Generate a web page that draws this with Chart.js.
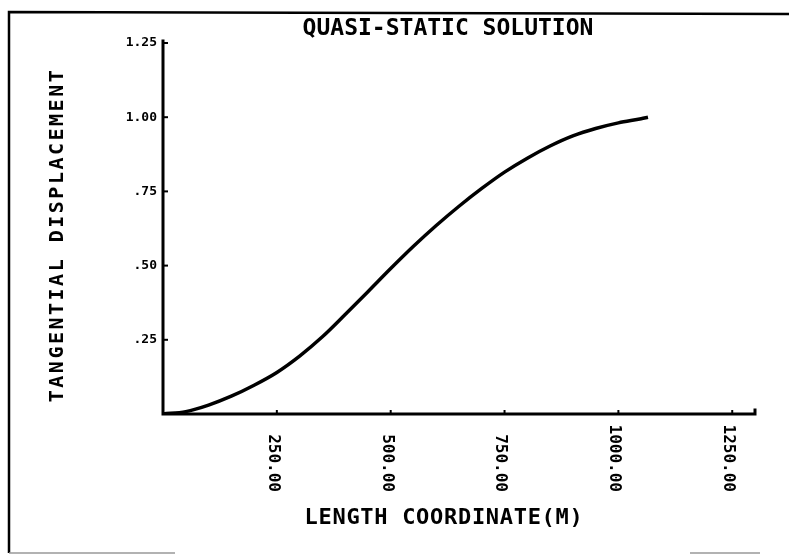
<!DOCTYPE html>
<html>
<head>
<meta charset="utf-8">
<script src="https://cdn.jsdelivr.net/npm/chart.js@4/dist/chart.umd.min.js"></script>
<style>
  html, body { margin: 0; padding: 0; background: #fff; }
  canvas { display: block; }
</style>
</head>
<body>
<canvas id="plot" width="789" height="557"></canvas>
<script>
// Length coordinate (m) and tangential displacement along the member
const lengthCoord = [0, 50, 100, 150, 200, 250, 300, 350, 400, 450, 500, 550, 600, 650, 700, 750, 800, 850, 900, 950, 1000, 1050, 1065];
const tangentialDisp = [0, 0.008, 0.03, 0.06, 0.097, 0.14, 0.195, 0.26, 0.335, 0.412, 0.49, 0.565, 0.635, 0.70, 0.76, 0.815, 0.862, 0.903, 0.937, 0.962, 0.981, 0.995, 1.0];

// Axis ticks
const xTickValues = [250, 500, 750, 1000, 1250];
const xTickLabels = ['250.00', '500.00', '750.00', '1000.00', '1250.00'];
const yTickValues = [0.25, 0.5, 0.75, 1.0, 1.25];
const yTickLabels = ['.25', '.50', '.75', '1.00', '1.25'];

const FONT = '"DejaVu Sans Mono", "Liberation Mono", monospace';

// White page with the plotter frame
const pageFrame = {
    id: 'pageFrame',
    beforeDraw: (chart) => {
        const ctx = chart.ctx;
        ctx.save();
        ctx.fillStyle = '#fff';
        ctx.fillRect(0, 0, chart.width, chart.height);
        ctx.strokeStyle = '#000';
        ctx.lineWidth = 2.5;
        ctx.beginPath();
        ctx.moveTo(9, 553);
        ctx.lineTo(9, 12);
        ctx.lineTo(789, 14);
        ctx.stroke();
        ctx.strokeStyle = '#999';
        ctx.lineWidth = 1.5;
        ctx.beginPath();
        ctx.moveTo(9, 553);
        ctx.lineTo(175, 553);
        ctx.moveTo(690, 553);
        ctx.lineTo(760, 553);
        ctx.stroke();
        ctx.restore();
    }
};

// Axes, tick marks and all lettering, placed with the chart's own scales
const plotterAxes = {
    id: 'plotterAxes',
    afterDraw: (chart) => {
        const ctx = chart.ctx;
        const xs = chart.scales.x;
        const ys = chart.scales.y;
        const x0 = xs.getPixelForValue(xs.min);
        const x1 = xs.getPixelForValue(xs.max);
        const y0 = ys.getPixelForValue(0);
        const yTop = ys.getPixelForValue(1.25);

        ctx.save();
        ctx.strokeStyle = '#000';
        ctx.fillStyle = '#000';
        ctx.lineWidth = 3;
        ctx.lineCap = 'square';

        // axis lines
        ctx.beginPath();
        ctx.moveTo(x0, yTop - 2);
        ctx.lineTo(x0, y0);
        ctx.lineTo(x1, y0);
        ctx.lineTo(x1, y0 - 4);
        ctx.stroke();

        // y ticks point into the plot
        ctx.lineWidth = 2;
        yTickValues.forEach((v) => {
            const py = ys.getPixelForValue(v);
            ctx.beginPath();
            ctx.moveTo(x0, py);
            ctx.lineTo(x0 + 4, py);
            ctx.stroke();
        });
        // x ticks point up
        xTickValues.forEach((v) => {
            const px = xs.getPixelForValue(v);
            ctx.beginPath();
            ctx.moveTo(px, y0);
            ctx.lineTo(px, y0 - 3);
            ctx.stroke();
        });

        // y tick labels
        ctx.font = 'bold 13px ' + FONT;
        ctx.textAlign = 'right';
        ctx.textBaseline = 'middle';
        yTickValues.forEach((v, i) => {
            ctx.fillText(yTickLabels[i], x0 - 6, ys.getPixelForValue(v));
        });

        // x tick labels, turned to read downwards and ending on one line
        ctx.font = 'bold 16px ' + FONT;
        xTickValues.forEach((v, i) => {
            const px = xs.getPixelForValue(v) - 4;
            ctx.save();
            ctx.translate(px, y0 + 78);
            ctx.rotate(Math.PI / 2);
            ctx.textAlign = 'right';
            ctx.textBaseline = 'middle';
            ctx.fillText(xTickLabels[i], 0, 0);
            ctx.restore();
        });

        // title
        ctx.font = 'bold 23px ' + FONT;
        ctx.textAlign = 'center';
        ctx.textBaseline = 'middle';
        ctx.fillText('QUASI-STATIC SOLUTION', 448, 29);

        // x axis title
        ctx.font = 'bold 22px ' + FONT;
        ctx.letterSpacing = '0.7px';
        ctx.fillText('LENGTH COORDINATE(M)', 444, 518);

        // y axis title
        ctx.save();
        ctx.translate(58, 235);
        ctx.rotate(-Math.PI / 2);
        ctx.font = 'bold 20px ' + FONT;
        ctx.letterSpacing = '2.5px';
        ctx.fillText('TANGENTIAL DISPLACEMENT', 0, 0);
        ctx.restore();

        ctx.restore();
    }
};

const points = lengthCoord.map((x, i) => ({ x: x, y: tangentialDisp[i] }));

new Chart(document.getElementById('plot'), {
    type: 'scatter',
    data: {
        datasets: [{
            data: points,
            showLine: true,
            borderColor: '#000',
            borderWidth: 3.5,
            pointRadius: 0,
            cubicInterpolationMode: 'monotone'
        }]
    },
    options: {
        responsive: false,
        animation: false,
        devicePixelRatio: 1,
        layout: {
            padding: { top: 43, left: 163, right: 34, bottom: 143 }
        },
        scales: {
            x: { type: 'linear', min: 0, max: 1300, display: false },
            y: { type: 'linear', min: 0, max: 1.25, display: false }
        },
        plugins: {
            legend: { display: false },
            tooltip: { enabled: false }
        }
    },
    plugins: [pageFrame, plotterAxes]
});
</script>
</body>
</html>
